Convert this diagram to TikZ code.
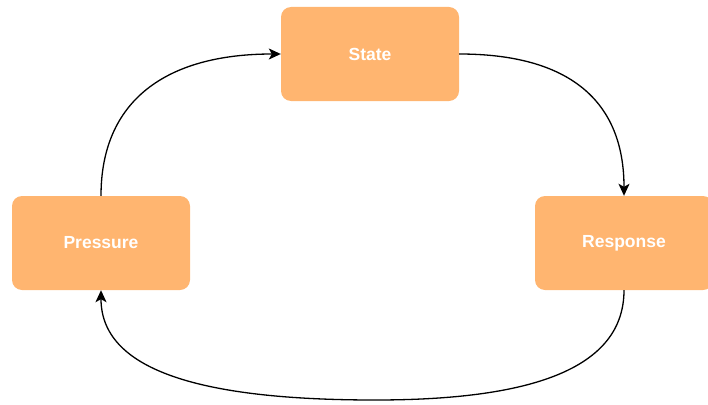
\documentclass[tikz,border=0pt]{standalone}
\usepackage{fontspec}
\setmainfont{Liberation Sans}
\usetikzlibrary{arrows.meta}
\definecolor{boxfill}{HTML}{FFB570}
\begin{document}
\begin{tikzpicture}[x=1pt,y=-1pt,
  stagebox/.style={rectangle, rounded corners=10pt, fill=boxfill, draw=none,
    minimum width=178pt, minimum height=94pt, inner sep=0pt,
    text=white, font=\bfseries\fontsize{17.5}{20}\selectfont},
  flow/.style={draw=black, line width=1.3pt, -{Stealth[length=12pt,width=11pt,inset=3pt]}}]
  \useasboundingbox (0,0) rectangle (708,404);
  \node[stagebox] (S) at (370,54) {State};
  \node[stagebox] (P) at (101,243) {Pressure};
  \node[stagebox] (R) at (624,243) {Response};
  \coordinate (B) at (375,400);
  % cycle of arrows
  \draw[flow] (P.north) .. controls +(0,-95) and +(-115,0) .. (S.west);
  \draw[flow] (S.east) .. controls +(110,0) and +(0,-95) .. (R.north);
  \draw[flow] (R.south) .. controls +(0,85) and +(140,0) .. (B)
              .. controls +(-160,0) and +(0,85) .. (P.south);
\end{tikzpicture}
\end{document}
